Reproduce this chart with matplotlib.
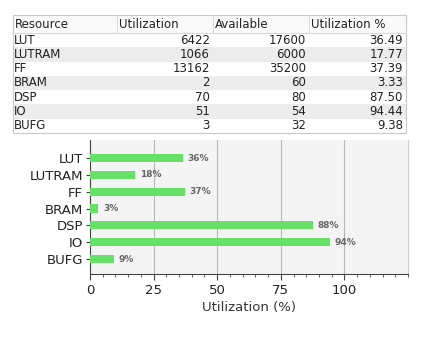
import matplotlib
matplotlib.use("Agg")
import matplotlib.pyplot as plt
from matplotlib.patches import Rectangle
import numpy as np

resources = ["LUT", "LUTRAM", "FF", "BRAM", "DSP", "IO", "BUFG"]
utilization = [6422, 1066, 13162, 2, 70, 51, 3]
available = [17600, 6000, 35200, 60, 80, 54, 32]
util_pct = ["36.49", "17.77", "37.39", "3.33", "87.50", "94.44", "9.38"]
headers = ["Resource", "Utilization", "Available", "Utilization %"]
xticks = [0, 25, 50, 75, 100]

W, H = 425, 337
fig = plt.figure(figsize=(W / 100, H / 100), dpi=100)
fig.patch.set_facecolor("white")

# ---- Table (pixel coordinates) ----
tax = fig.add_axes([0, 0, 1, 1])
tax.set_xlim(0, W)
tax.set_ylim(H, 0)
tax.axis("off")

col_edges = [13, 117, 213, 309, 406]
top, head_bot, bot = 15, 33, 133
row_h = (bot - head_bot) / len(resources)
txt_col = "#222222"
fs = 8.5

# shaded rows
for i in range(len(resources)):
    y0 = head_bot + i * row_h
    if i % 2 == 1:
        tax.add_patch(Rectangle((col_edges[0], y0), col_edges[-1] - col_edges[0], row_h,
                                facecolor="#ececec", edgecolor="none"))
# header
tax.add_patch(Rectangle((col_edges[0], top), col_edges[-1] - col_edges[0], head_bot - top,
                        facecolor="#fafafa", edgecolor="none"))
# border
tax.add_patch(Rectangle((col_edges[0], top), col_edges[-1] - col_edges[0], bot - top,
                        facecolor="none", edgecolor="#c8c8c8", lw=0.8))
tax.plot([col_edges[0], col_edges[-1]], [head_bot, head_bot], color="#d8d8d8", lw=0.8)
for xe in col_edges[1:-1]:
    tax.plot([xe, xe], [top, head_bot], color="#d8d8d8", lw=0.8)

for j, h in enumerate(headers):
    tax.text(col_edges[j] + 2, (top + head_bot) / 2 + 0.5, h, ha="left", va="center",
             fontsize=fs, color=txt_col)

for i, r in enumerate(resources):
    yc = head_bot + (i + 0.5) * row_h
    tax.text(col_edges[0] + 1, yc, r, ha="left", va="center", fontsize=fs, color=txt_col)
    vals = [str(utilization[i]), str(available[i]), util_pct[i]]
    for j, v in enumerate(vals):
        tax.text(col_edges[j + 2] - 3, yc, v, ha="right", va="center", fontsize=fs, color=txt_col)

# ---- Bar chart ----
pct_vals = [float(v) for v in util_pct]
left, right = 90, 408
ax_top, ax_bot = 140, 274
ax = fig.add_axes([left / W, 1 - ax_bot / H, (right - left) / W, (ax_bot - ax_top) / H])
ax.set_facecolor("#f4f4f4")
y = np.arange(len(resources))
ax.barh(y, pct_vals, height=0.48, color="#66e066", zorder=3)
for yi, v in zip(y, pct_vals):
    ax.text(v + 1.8, yi, f"{round(v):d}%", va="center", ha="left", fontsize=6.5,
            color="#666666", fontweight="bold", zorder=4)
ax.set_xlim(0, 125)
ax.set_ylim(len(resources) - 1 + 0.89, -1.07)
ax.set_yticks(y)
ax.set_yticklabels(resources, fontsize=9.5, color="#222222")
ax.set_xticks(xticks)
ax.set_xticklabels([str(t) for t in xticks], fontsize=9.5, color="#222222")
ax.set_xticks(np.arange(0, 126, 5), minor=True)
ax.tick_params(axis="x", which="major", length=4, color="#444444", pad=3)
ax.tick_params(axis="x", which="minor", length=2, color="#444444")
ax.tick_params(axis="y", length=3, color="#444444", pad=2)
ax.grid(axis="x", which="major", color="#b8b8b8", lw=0.8, zorder=0)
for s in ["top"]:
    ax.spines[s].set_visible(False)
ax.spines["right"].set_color("#cccccc")
ax.spines["right"].set_linewidth(0.8)
ax.spines["left"].set_color("#444444")
ax.spines["bottom"].set_color("#444444")
ax.set_xlabel("Utilization (%)", fontsize=9.5, color="#333333", labelpad=3)

fig.savefig("out.png", dpi=100)
